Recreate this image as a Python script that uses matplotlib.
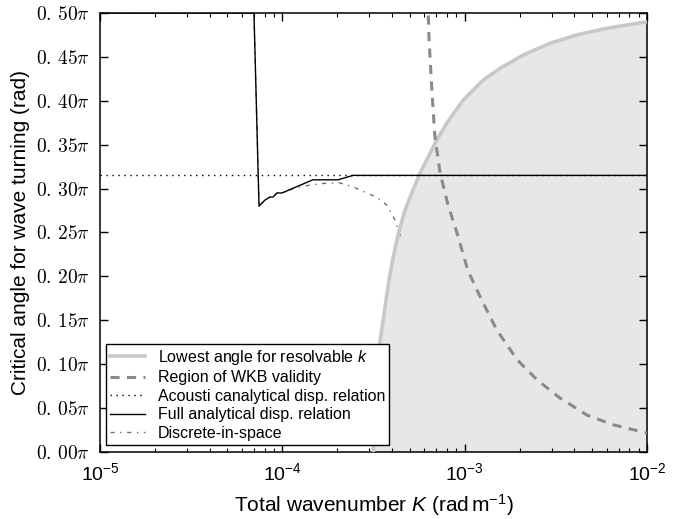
import numpy as np
import matplotlib
matplotlib.use('Agg')
import matplotlib.pyplot as plt
from matplotlib.ticker import NullFormatter

plt.rcParams['font.family'] = ['Liberation Sans', 'DejaVu Sans']
plt.rcParams['mathtext.fontset'] = 'custom'
plt.rcParams['mathtext.rm'] = 'Liberation Sans'
plt.rcParams['mathtext.it'] = 'Liberation Sans:italic'

# angles below are given as fractions of pi
# lowest angle for which k is resolvable
k_res = [3.155e-4, 3.22e-4, 3.29e-4, 3.40e-4, 3.51e-4, 3.66e-4, 3.85e-4, 4.06e-4,
         4.33e-4, 4.71e-4, 5.12e-4, 5.69e-4, 5.93e-4, 6.32e-4, 6.73e-4, 7.03e-4,
         7.97e-4, 9.83e-4, 1.266e-3, 1.563e-3, 2.098e-3, 2.94e-3, 4.115e-3,
         6.01e-3, 8.41e-3, 1.0e-2]
ang_res = [0.0, 0.0516, 0.090, 0.120, 0.139, 0.1655, 0.196, 0.2224,
           0.249, 0.2756, 0.2946, 0.3174, 0.325, 0.3363, 0.3477, 0.3554,
           0.3744, 0.4009, 0.4237, 0.437, 0.4522, 0.4655, 0.475,
           0.4826, 0.4875, 0.490]

# WKB validity limit
k_wkb = [6.25e-4, 6.37e-4, 6.62e-4, 6.87e-4, 7.33e-4, 8.11e-4, 9.09e-4, 1.04e-3,
         1.24e-3, 1.50e-3, 1.94e-3, 2.50e-3, 3.33e-3, 4.69e-3, 6.52e-3, 1.0e-2]
ang_wkb = [0.53, 0.4727, 0.409, 0.359, 0.318, 0.281, 0.249, 0.207,
           0.173, 0.139, 0.105, 0.082, 0.0615, 0.042, 0.031, 0.0216]

# acoustic analytical dispersion relation
k_ac = [1e-5, 1e-2]
ang_ac = [0.315, 0.315]

# full analytical dispersion relation
k_full = [1e-5, 6.99e-5, 7.45e-5, 8.04e-5, 8.55e-5, 8.89e-5, 9.35e-5, 9.96e-5,
          1.47e-4, 2.02e-4, 2.44e-4, 1e-2]
ang_full = [0.5, 0.5, 0.280, 0.287, 0.2904, 0.2904, 0.295, 0.295,
            0.310, 0.310, 0.315, 0.315]

# discrete-in-space
k_disc = [1e-5, 6.99e-5, 7.45e-5, 8.04e-5, 8.55e-5, 8.89e-5, 9.35e-5, 9.96e-5,
          1.174e-4, 1.42e-4, 1.78e-4, 2.07e-4, 2.44e-4, 2.84e-4, 3.30e-4,
          3.75e-4, 4.15e-4, 4.45e-4]
ang_disc = [0.5, 0.5, 0.280, 0.287, 0.2904, 0.2904, 0.295, 0.295,
            0.3007, 0.304, 0.3064, 0.3064, 0.302, 0.296, 0.290,
            0.281, 0.264, 0.245]

yticks = np.arange(0, 0.51, 0.05)

fig = plt.figure(figsize=(6.82, 5.19), dpi=100)
ax = fig.add_axes([0.1466, 0.1291, 0.8021, 0.8459])

pi = np.pi
ax.plot(k_disc, np.array(ang_disc) * pi, color='#707070', lw=1.0,
        linestyle=(0, (3, 4, 1, 4)), label='Discrete-in-space', zorder=2)
ax.fill_between(k_res, np.array(ang_res) * pi, 0, color='#e6e7e9', lw=0, zorder=1)
ax.plot(k_res, np.array(ang_res) * pi, color='#c8c8c8', lw=2.6,
        label='Lowest angle for resolvable $k$', zorder=3)
ax.plot(k_wkb, np.array(ang_wkb) * pi, color='#8a8a8a', lw=2.2,
        linestyle=(0, (3, 2.4)), label='Region of WKB validity', zorder=4)
ax.plot(k_ac, np.array(ang_ac) * pi, color='black', lw=1.0,
        linestyle=(0, (1, 3.3)), label='Acousti canalytical disp. relation', zorder=5)
ax.plot(k_full, np.array(ang_full) * pi, color='black', lw=1.0,
        label='Full analytical disp. relation', zorder=6)

ax.set_xscale('log')
ax.set_xlim(1e-5, 1e-2)
ax.set_ylim(0, 0.5 * pi)
ax.set_yticks(yticks * pi)
ax.set_yticklabels([r'$0.\,%02d\pi$' % round(v * 100) for v in yticks],
                   math_fontfamily='cm', fontsize=13)
ax.xaxis.set_minor_formatter(NullFormatter())

ax.tick_params(which='both', direction='in', top=True, right=True)
ax.tick_params(which='major', length=6, width=1, pad=7, labelsize=14)
ax.tick_params(which='minor', length=3, width=0.8)
for s in ax.spines.values():
    s.set_linewidth(1.1)

ax.set_xlabel('Total wavenumber $K$ (rad$\\,$m$^{-1}$)', fontsize=15, labelpad=6)
ax.set_ylabel('Critical angle for wave turning (rad)', fontsize=15, labelpad=5)

h, l = ax.get_legend_handles_labels()
order = [1, 2, 3, 4, 0]
leg = ax.legend([h[i] for i in order], [l[i] for i in order],
                loc='lower left', bbox_to_anchor=(0.011, 0.016), borderaxespad=0,
                fontsize=11.5, labelspacing=0.22, handlelength=2.2,
                handletextpad=0.8, borderpad=0.25, fancybox=False, framealpha=1)
leg.get_frame().set_edgecolor('black')
leg.get_frame().set_linewidth(1.0)

fig.savefig('out.png', dpi=100)
